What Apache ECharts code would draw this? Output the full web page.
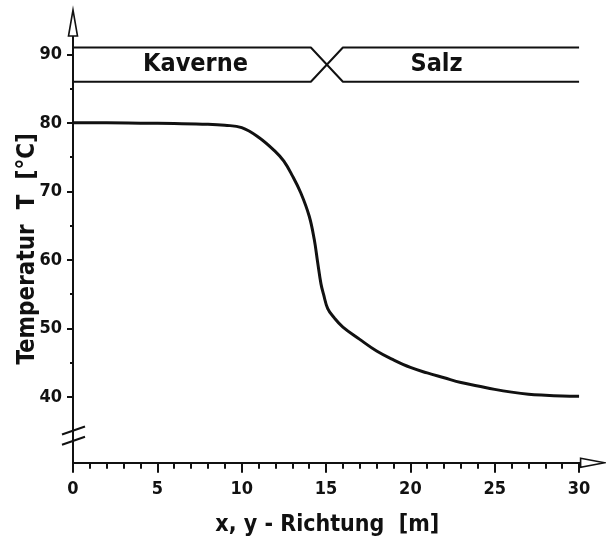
<!DOCTYPE html>
<html>
<head>
<meta charset="utf-8">
<title>Temperaturverlauf Kaverne / Salz</title>
<script src="https://cdn.jsdelivr.net/npm/echarts@6/dist/echarts.min.js"></script>
<style>
  html, body { margin: 0; padding: 0; background: #fff; }
  #chart { width: 606px; height: 540px; }
</style>
</head>
<body>
<div id="chart"></div>
<script>
// Temperature profile across the cavern wall into the salt
const distance = [0, 2, 4, 6, 8, 9, 10, 11, 12, 12.5, 13, 13.5, 14, 14.3, 14.5, 14.7, 14.85,
  15.1, 15.5, 16, 17, 18, 19, 20, 21, 22, 23, 24, 25, 26, 27, 28, 29, 30];
const temperature = [80, 80, 79.95, 79.9, 79.8, 79.65, 79.3, 77.9, 75.8, 74.4, 72.3, 69.8, 66.4, 63.0, 59.7, 56.5, 55.0,
  52.9, 51.5, 50.2, 48.4, 46.7, 45.4, 44.3, 43.5, 42.8, 42.1, 41.6, 41.1, 40.7, 40.4, 40.25, 40.15, 40.1];

// Zone band above the curve: two boundary lines that cross at the cavern wall
const bandX = [0, 14.1, 16.0, 30];
const bandLineA = [91, 91, 86, 86];
const bandLineB = [86, 86, 91, 91];
const zoneNames = ['Kaverne', 'Salz'];
const zoneCenterX = [7.26, 21.55];
const zoneCenterY = 88.45;

// Axis ticks and labels
const xMajorTicks = [0, 5, 10, 15, 20, 25, 30];
const xMinorTicks = [1, 2, 3, 4, 6, 7, 8, 9, 11, 12, 13, 14, 16, 17, 18, 19, 21, 22, 23, 24, 26, 27, 28, 29];
const yMajorTicks = [40, 50, 60, 70, 80, 90];
const yMinorTicks = [45, 55, 65, 75, 85];
const yBreakValues = [35.1, 33.6];

const X_MIN = 0, X_MAX = 30.15;
const Y_MIN = 30.4, Y_MAX = 92.82;

const INK = '#111';
const FONT = "'DejaVu Sans Condensed', 'DejaVu Sans', sans-serif";

const chart = echarts.init(document.getElementById('chart'), null, { renderer: 'canvas' });

const pairs = (xs, ys) => xs.map((x, i) => [x, ys[i]]);

const option = {
  animation: false,
  backgroundColor: '#fff',
  grid: { left: 73, right: 24.4, top: 35, bottom: 77.3, containLabel: false, outerBoundsMode: 'none' },
  xAxis: [
    {
      type: 'value', min: X_MIN, max: X_MAX, position: 'bottom',
      axisLine: { show: true, onZero: false, lineStyle: { color: INK, width: 2 } },
      axisTick: { show: true, customValues: xMajorTicks, length: 10, lineStyle: { color: INK, width: 2 } },
      axisLabel: { customValues: xMajorTicks, margin: 18, color: INK, fontSize: 18, fontWeight: 'bold', fontFamily: FONT },
      splitLine: { show: false },
      name: 'x, y - Richtung  [m]',
      nameLocation: 'middle', nameGap: 51, nameMoveOverlap: false,
      nameTextStyle: { color: INK, fontSize: 23, fontWeight: 'bold', fontFamily: FONT }
    },
    {
      type: 'value', min: X_MIN, max: X_MAX, position: 'bottom',
      axisLine: { show: false },
      axisTick: { show: true, customValues: xMinorTicks, length: 6, lineStyle: { color: INK, width: 2 } },
      axisLabel: { show: false },
      splitLine: { show: false }
    }
  ],
  yAxis: [
    {
      type: 'value', min: Y_MIN, max: Y_MAX, position: 'left',
      axisLine: { show: true, onZero: false, lineStyle: { color: INK, width: 2 } },
      axisTick: { show: true, customValues: yMajorTicks, length: 6, lineStyle: { color: INK, width: 2 } },
      axisLabel: { customValues: yMajorTicks, margin: 11, color: INK, fontSize: 18, fontWeight: 'bold', fontFamily: FONT },
      splitLine: { show: false },
      name: 'Temperatur  T  [°C]',
      nameLocation: 'middle', nameGap: 33, nameMoveOverlap: false,
      nameTextStyle: { color: INK, fontSize: 24, fontWeight: 'bold', fontFamily: FONT }
    },
    {
      type: 'value', min: Y_MIN, max: Y_MAX, position: 'left',
      axisLine: { show: false },
      axisTick: { show: true, customValues: yMinorTicks, length: 3, lineStyle: { color: INK, width: 2 } },
      axisLabel: { show: false },
      splitLine: { show: false }
    }
  ],
  series: [
    {
      name: 'Temperatur', type: 'line', xAxisIndex: 0, yAxisIndex: 0,
      data: pairs(distance, temperature),
      showSymbol: false, smooth: 0.4,
      lineStyle: { color: INK, width: 3 }
    },
    {
      name: 'Zone A', type: 'line', xAxisIndex: 0, yAxisIndex: 0,
      data: pairs(bandX, bandLineA), showSymbol: false,
      lineStyle: { color: INK, width: 2 }
    },
    {
      name: 'Zone B', type: 'line', xAxisIndex: 0, yAxisIndex: 0,
      data: pairs(bandX, bandLineB), showSymbol: false,
      lineStyle: { color: INK, width: 2 }
    },
    {
      name: 'Zonen', type: 'scatter', xAxisIndex: 0, yAxisIndex: 0,
      symbolSize: 0,
      itemStyle: { opacity: 1 },
      data: zoneNames.map((n, i) => [zoneCenterX[i], zoneCenterY, n]),
      label: {
        show: true, position: 'inside', formatter: p => p.data[2],
        color: INK, opacity: 1, fontSize: 25, fontWeight: 'bold', fontFamily: FONT
      }
    }
  ]
};

chart.setOption(option);

// Open arrow heads at the axis ends and the break mark on the temperature axis
function decorate() {
  const ref = { xAxisIndex: 0, yAxisIndex: 0 };
  const top = chart.convertToPixel(ref, [X_MIN, Y_MAX]);
  const right = chart.convertToPixel(ref, [X_MAX, Y_MIN]);
  const elements = [
    {
      type: 'polygon', z: 100,
      shape: { points: [[top[0] - 4.5, top[1] + 1], [top[0], top[1] - 25], [top[0] + 4.5, top[1] + 1]] },
      style: { fill: '#fff', stroke: INK, lineWidth: 1.6 }
    },
    {
      type: 'polygon', z: 100,
      shape: { points: [[right[0] - 1, right[1] - 4.5], [right[0] + 23, right[1]], [right[0] - 1, right[1] + 4.5]] },
      style: { fill: '#fff', stroke: INK, lineWidth: 1.6 }
    }
  ];
  yBreakValues.forEach(v => {
    const p = chart.convertToPixel(ref, [X_MIN, v]);
    elements.push({
      type: 'line', z: 100,
      shape: { x1: p[0] - 11, y1: p[1] + 4, x2: p[0] + 12, y2: p[1] - 4 },
      style: { stroke: INK, lineWidth: 2 }
    });
  });
  chart.setOption({ graphic: elements });
}
decorate();
</script>
</body>
</html>
